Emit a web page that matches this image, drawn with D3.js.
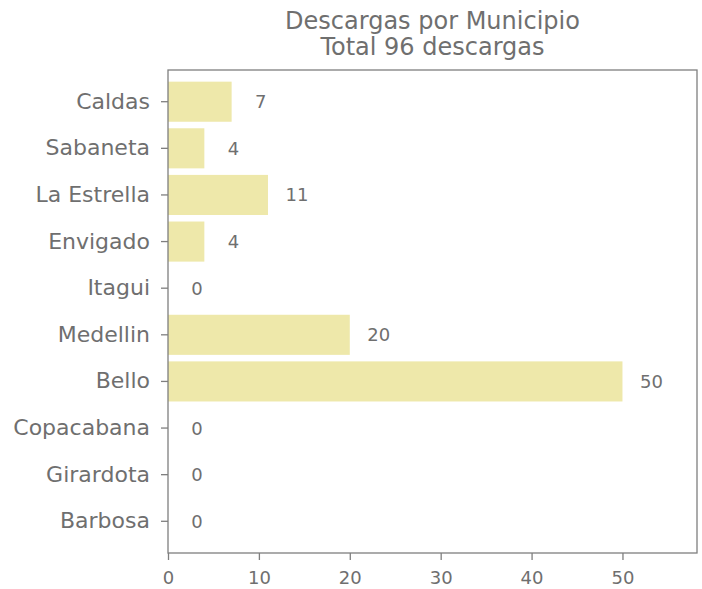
<html>
    <head>
        <title>Descargas por Municipio</title>
        <style>
            body {
                margin: 0;
                background: #fff;
            }
            .chart text {
                font-family: 'DejaVu Sans', sans-serif;
                fill: #6f6f6f;
            }
            .chart .bar {
                fill: #eee8aa;
            }
            .chart .axis line {
                stroke: #7f7f7f;
                stroke-width: 1.3;
            }
            .chart .axis path {
                display: none;
            }
            .chart .frame {
                fill: none;
                stroke: #7f7f7f;
                stroke-width: 1.3;
            }
        </style>
    </head>
    <body>
        <svg class="chart" width="702" height="589"></svg>
        <script src="https://d3js.org/d3.v7.min.js"></script>
        <script>

            var municipios = ['Caldas', 'Sabaneta', 'La Estrella', 'Envigado', 'Itagui',
                              'Medellin', 'Bello', 'Copacabana', 'Girardota', 'Barbosa'];
            var descargas = [7, 4, 11, 4, 0, 20, 50, 0, 0, 0];
            var xTicks = [0, 10, 20, 30, 40, 50];
            var titleLines = ['Descargas por Municipio', 'Total 96 descargas'];

            // plot box (window.top is reserved, so use other names)
            var plotLeft = 168, plotRight = 697, plotTop = 70, plotBottom = 553;

            var xScale = d3.scaleLinear()
              .domain([0, 58.2])
              .range([plotLeft, plotRight]);

            var yScale = d3.scaleBand()
              .domain(municipios)
              .range([plotTop, plotBottom])
              .paddingInner(0.14)
              .paddingOuter(0.25);

            var svg = d3.select('svg');

            // bars
            svg.append('g').selectAll('rect')
              .data(municipios)
              .enter()
              .append('rect')
              .attr('class', 'bar')
              .attr('x', xScale(0))
              .attr('y', function(d) { return yScale(d); })
              .attr('width', function(d, i) { return xScale(descargas[i]) - xScale(0); })
              .attr('height', yScale.bandwidth());

            // value labels
            svg.append('g').selectAll('text')
              .data(municipios)
              .enter()
              .append('text')
              .attr('x', function(d, i) { return xScale(descargas[i]) + 29; })
              .attr('y', function(d) { return yScale(d) + yScale.bandwidth() / 2; })
              .attr('dy', '0.36em')
              .attr('text-anchor', 'middle')
              .style('font-size', '18px')
              .text(function(d, i) { return descargas[i]; });

            // axes
            var xAxis = d3.axisBottom(xScale)
              .tickValues(xTicks)
              .tickFormat(d3.format('d'))
              .tickSize(7)
              .tickPadding(11);

            var yAxis = d3.axisLeft(yScale)
              .tickSize(7)
              .tickPadding(11);

            var gx = svg.append('g').attr('class', 'axis')
              .attr('transform', 'translate(0,' + plotBottom + ')')
              .call(xAxis);
            gx.selectAll('text').style('font-size', '18px').attr('fill', null);
            gx.selectAll('line').attr('stroke', null);

            var gy = svg.append('g').attr('class', 'axis')
              .attr('transform', 'translate(' + plotLeft + ',0)')
              .call(yAxis);
            gy.selectAll('text').style('font-size', '22px').attr('fill', null);
            gy.selectAll('line').attr('stroke', null);
            gy.attr('font-family', null).attr('font-size', null);
            gx.attr('font-family', null).attr('font-size', null);

            // frame
            svg.append('rect')
              .attr('class', 'frame')
              .attr('x', plotLeft)
              .attr('y', plotTop)
              .attr('width', plotRight - plotLeft)
              .attr('height', plotBottom - plotTop);

            // title
            svg.append('g').selectAll('text')
              .data(titleLines)
              .enter()
              .append('text')
              .attr('x', (plotLeft + plotRight) / 2)
              .attr('y', function(d, i) { return 29 + i * 26; })
              .attr('text-anchor', 'middle')
              .style('font-size', '24px')
              .text(function(d) { return d; });

        </script>
    </body>
</html>
